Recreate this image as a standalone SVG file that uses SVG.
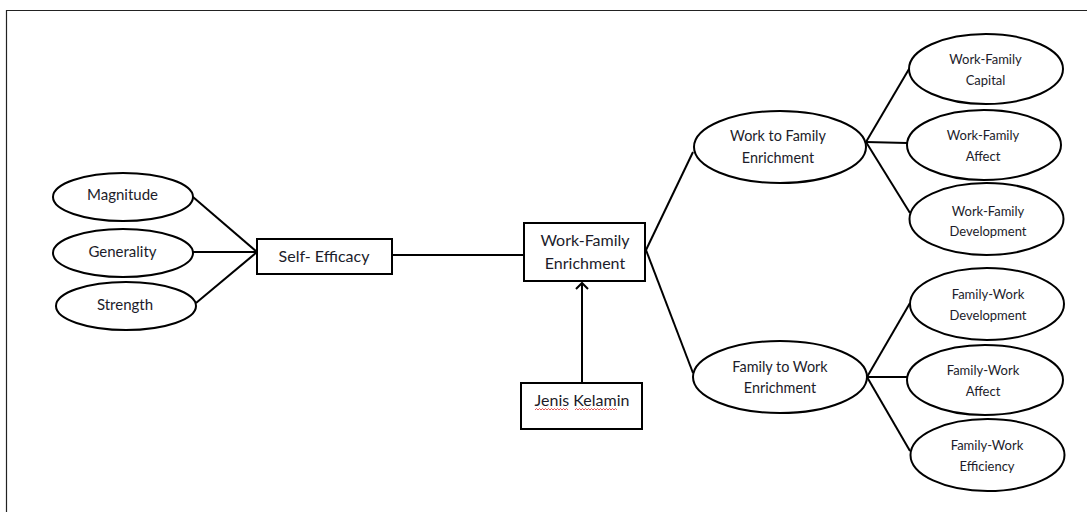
<svg xmlns="http://www.w3.org/2000/svg" width="1087" height="512" viewBox="0 0 1087 512">
<style>
.shape{fill:#fff;stroke:#000;stroke-width:2}
.con{fill:none;stroke:#000;stroke-width:2}
.t{font-family:Lato,"Open Sans","Liberation Sans",sans-serif;fill:#1c1c2a;text-anchor:middle}
.b{font-size:16px}
.l{font-size:14.4px}
.m{font-size:15px}
.s{font-size:13px}
</style>
<defs>
<marker id="chev" markerWidth="14" markerHeight="14" refX="8" refY="7" orient="auto" markerUnits="userSpaceOnUse" viewBox="0 0 14 14">
<path d="M2 1 L8 7 L2 13" fill="none" stroke="#000" stroke-width="2"/>
</marker>
</defs>
<rect width="1087" height="512" fill="#fff"/>
<path d="M6.5 520 V10.5 H1090" fill="none" stroke="#222" stroke-width="1.2"/>
<g id="connectors">
<line class="con" x1="193" y1="197" x2="257" y2="252"/>
<line class="con" x1="193" y1="252" x2="257" y2="252"/>
<line class="con" x1="196" y1="303" x2="257" y2="252"/>
<line class="con" x1="392" y1="255" x2="524" y2="255"/>
<line class="con" x1="582" y1="383" x2="582" y2="283" marker-end="url(#chev)"/>
<line class="con" x1="646" y1="250" x2="693" y2="152"/>
<line class="con" x1="646" y1="250" x2="693" y2="373"/>
<line class="con" x1="866" y1="142" x2="909" y2="69"/>
<line class="con" x1="866" y1="142" x2="907" y2="143"/>
<line class="con" x1="866" y1="142" x2="910" y2="213"/>
<line class="con" x1="867" y1="377" x2="910" y2="303"/>
<line class="con" x1="867" y1="377" x2="907" y2="377"/>
<line class="con" x1="867" y1="377" x2="910" y2="451"/>
</g>
<g id="magnitude"><ellipse class="shape" cx="123" cy="197" rx="70" ry="24"/><text class="t m" x="122.5" y="200">Magnitude</text></g>
<g id="generality"><ellipse class="shape" cx="123" cy="253" rx="70" ry="24"/><text class="t m" x="122.5" y="257">Generality</text></g>
<g id="strength"><ellipse class="shape" cx="126" cy="306" rx="70" ry="24"/><text class="t m" x="125" y="310">Strength</text></g>
<g id="self-efficacy"><rect class="shape" x="257" y="239" width="135" height="35"/><text class="t b" x="324" y="262">Self- Efficacy</text></g>
<g id="wfe"><rect class="shape" x="524" y="223" width="121" height="58"/><text class="t b" x="585" y="246">Work-Family</text><text class="t b" x="585" y="269">Enrichment</text></g>
<g id="jenis-kelamin"><rect class="shape" x="521" y="383" width="121" height="46"/><text class="t b" x="582" y="406">Jenis Kelamin</text>
<path d="M535 410 l1.5 -1.5 l1.5 1.5 l1.5 -1.5 l1.5 1.5 l1.5 -1.5 l1.5 1.5 l1.5 -1.5 l1.5 1.5 l1.5 -1.5 l1.5 1.5 l1.5 -1.5 l1.5 1.5 l1.5 -1.5 l1.5 1.5 l1.5 -1.5 l1.5 1.5 l1.5 -1.5 l1.5 1.5 l1.5 -1.5 l1.5 1.5 l1.5 -1.5 l1.5 1.5 M575 410 l1.5 -1.5 l1.5 1.5 l1.5 -1.5 l1.5 1.5 l1.5 -1.5 l1.5 1.5 l1.5 -1.5 l1.5 1.5 l1.5 -1.5 l1.5 1.5 l1.5 -1.5 l1.5 1.5 l1.5 -1.5 l1.5 1.5 l1.5 -1.5 l1.5 1.5 l1.5 -1.5 l1.5 1.5 l1.5 -1.5 l1.5 1.5 l1.5 -1.5 l1.5 1.5 l1.5 -1.5 l1.5 1.5 l1.5 -1.5 l1.5 1.5 l1.5 -1.5 l1.5 1.5" fill="none" stroke="#e03030" stroke-width="0.8"/></g>
<g id="work-to-family"><ellipse class="shape" cx="780" cy="147" rx="86" ry="36"/><text class="t l" x="778" y="141">Work to Family</text><text class="t l" x="778" y="163">Enrichment</text></g>
<g id="family-to-work"><ellipse class="shape" cx="780" cy="377" rx="87" ry="36"/><text class="t l" x="780" y="372">Family to Work</text><text class="t l" x="780" y="393">Enrichment</text></g>
<g id="wf-capital"><ellipse class="shape" cx="986" cy="69" rx="77" ry="35"/><text class="t s" x="985.5" y="64">Work-Family</text><text class="t s" x="985.5" y="85">Capital</text></g>
<g id="wf-affect"><ellipse class="shape" cx="984" cy="145" rx="77" ry="35"/><text class="t s" x="983" y="140">Work-Family</text><text class="t s" x="983" y="161">Affect</text></g>
<g id="wf-development"><ellipse class="shape" cx="986.5" cy="219" rx="77" ry="36"/><text class="t s" x="988" y="216">Work-Family</text><text class="t s" x="988" y="236">Development</text></g>
<g id="fw-development"><ellipse class="shape" cx="987" cy="304" rx="77" ry="36"/><text class="t s" x="988" y="299">Family-Work</text><text class="t s" x="988" y="320">Development</text></g>
<g id="fw-affect"><ellipse class="shape" cx="985" cy="380" rx="78" ry="35"/><text class="t s" x="983" y="375">Family-Work</text><text class="t s" x="983" y="396">Affect</text></g>
<g id="fw-efficiency"><ellipse class="shape" cx="987.5" cy="455" rx="77" ry="36"/><text class="t s" x="987" y="450">Family-Work</text><text class="t s" x="987" y="471">Efficiency</text></g>
</svg>
